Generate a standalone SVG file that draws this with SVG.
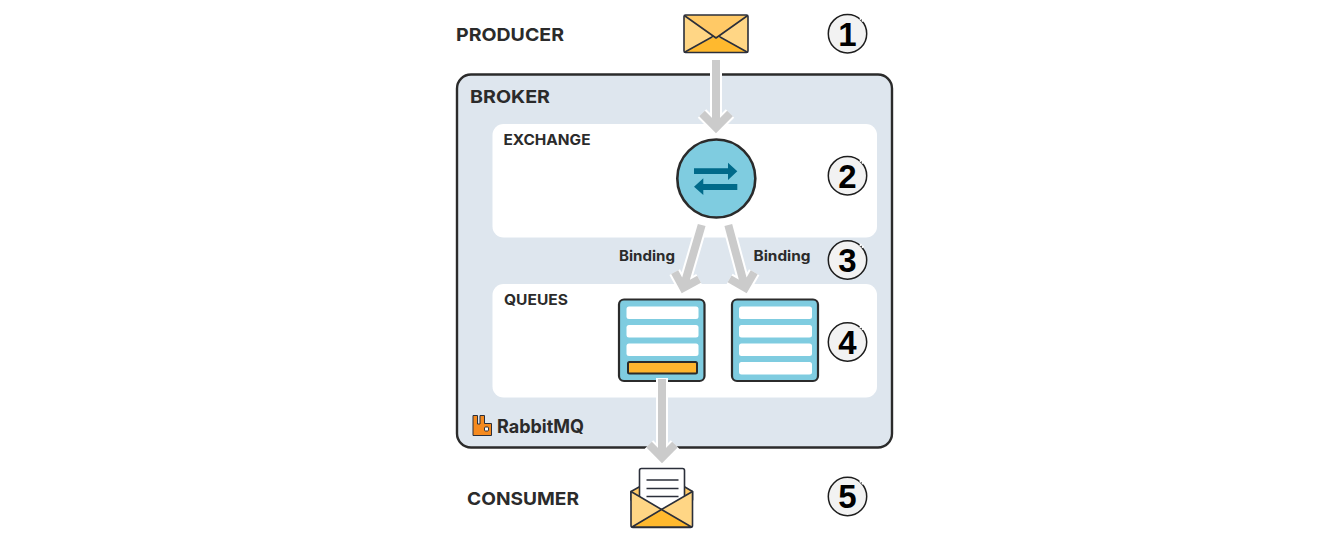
<svg xmlns="http://www.w3.org/2000/svg" xmlns:xlink="http://www.w3.org/1999/xlink" width="1341" height="541" viewBox="0 0 1341 541">
<style>
.t{font-family:Inter,"Open Sans","Liberation Sans",sans-serif;font-weight:700;fill:#2b2b2b}
.n{font-family:"Liberation Sans",Arial,sans-serif;font-weight:700;font-size:33px;fill:#000;text-anchor:middle}
.badge{fill:#f2f2f2;stroke:#1d1d1d;stroke-width:1.5}
.ink{stroke:#2b2f3a;stroke-width:1.6;stroke-linejoin:round;stroke-linecap:round}
.halo{fill:none;stroke:#fff;stroke-width:12;stroke-linejoin:miter}
.shaft{fill:none;stroke:#cbcbcb;stroke-width:8;stroke-linejoin:miter}
.row{fill:#fff}
.q{fill:#7fcce0;stroke:#2b2b2b;stroke-width:2.2}
</style>
<defs>
<g id="gap"><path d="M12.5 -15.5 L16 -12.5" fill="none" stroke="#fff" stroke-width="2.5" stroke-dasharray="1.6 1.2"/></g>
</defs>
<rect width="1341" height="541" fill="#fff"/>
<g id="broker">
<rect x="457" y="74.500" width="435" height="373" rx="14" fill="#dee6ee" stroke="#2b2b2b" stroke-width="2.400"/>
<text class="t" x="470" y="103" font-size="17.500" textLength="80" lengthAdjust="spacingAndGlyphs">BROKER</text>
</g>
<g id="exchange-panel">
<rect x="492.500" y="124" width="384.500" height="113.500" rx="11" fill="#fff"/>
<text class="t" x="503.500" y="144.500" font-size="14.500" textLength="87" lengthAdjust="spacingAndGlyphs">EXCHANGE</text>
</g>
<g id="queues-panel">
<rect x="492.500" y="284" width="384.500" height="113.500" rx="11" fill="#fff"/>
<text class="t" x="504" y="305" font-size="14.500" textLength="64" lengthAdjust="spacingAndGlyphs">QUEUES</text>
</g>
<g id="producer">
<text class="t" x="456" y="41" font-size="18" textLength="108" lengthAdjust="spacingAndGlyphs">PRODUCER</text>
</g>
<g id="producer-envelope">
<rect x="684" y="15" width="64" height="37.500" rx="1.500" fill="#ffd685"/>
<path d="M684 15H748L716 38Z" fill="#ffc966"/>
<path d="M684 52.500L716 36L748 52.500Z" fill="#ffb92e"/>
<rect x="684" y="15" width="64" height="37.500" rx="1.500" fill="none" class="ink"/>
<path d="M685 16L716 38L747 16M685 52L712 37M720 37L747 52" fill="none" class="ink"/>
</g>
<g id="exchange">
<circle cx="716.300" cy="178.500" r="39" fill="#7fcce0" stroke="#2b2b2b" stroke-width="2.600"/>
<path d="M694 168.300H728V162.700L737.300 171.300L728 180V174H694Z" fill="#006a8a"/>
<path d="M737.300 184H703.300V178.300L694 186.800L703.300 195V190H737.300Z" fill="#006a8a"/>
</g>
<g id="queue-1">
<rect x="619" y="299.500" width="85.500" height="81.500" rx="5" class="q"/>
<rect class="row" x="626.500" y="306.500" width="72" height="12.500" rx="2.500"/>
<rect class="row" x="626.500" y="325" width="72" height="12.500" rx="2.500"/>
<rect class="row" x="626.500" y="343.500" width="72" height="12.500" rx="2.500"/>
<rect x="628" y="362" width="69" height="11.500" rx="1.500" fill="#ffb52e" stroke="#2b2b2b" stroke-width="2"/>
</g>
<g id="queue-2">
<rect x="732" y="299.500" width="86" height="81.500" rx="5" class="q"/>
<rect class="row" x="739" y="306.500" width="73" height="12.500" rx="2.500"/>
<rect class="row" x="739" y="325" width="73" height="12.500" rx="2.500"/>
<rect class="row" x="739" y="343.500" width="73" height="12.500" rx="2.500"/>
<rect class="row" x="739" y="362" width="73" height="12.500" rx="2.500"/>
</g>
<g id="binding-labels">
<text class="t" x="619" y="261" font-size="14.500" textLength="56" lengthAdjust="spacingAndGlyphs">Binding</text>
<text class="t" x="753.500" y="261" font-size="14.500" textLength="57" lengthAdjust="spacingAndGlyphs">Binding</text>
</g>
<g id="rabbitmq-logo">
<path d="M473 415.500H477.500V424H480V415.500H484.500V423.500H491.500V435.500H473Z" fill="#f58a1f" stroke="#2b2f3a" stroke-width="1"/>
<rect x="484.500" y="427" width="4" height="4" rx="1" fill="#fff" stroke="#2b2f3a" stroke-width="1"/>
<text class="t" x="497" y="432.500" font-size="18.500" textLength="87" lengthAdjust="spacingAndGlyphs">RabbitMQ</text>
</g>
<g id="consumer">
<text class="t" x="467" y="504.500" font-size="18" textLength="112" lengthAdjust="spacingAndGlyphs">CONSUMER</text>
</g>
<g id="consumer-envelope">
<path d="M631 491.500L640 486.500H684L692.500 491.500V500H631Z" fill="#ffc966" class="ink"/>
<rect x="639.500" y="468.500" width="45" height="42" rx="2" fill="#fff" class="ink"/>
<path d="M646.500 480H678.500M646.500 488.500H678.500M646.500 496.500H678.500" stroke="#2b2f3a" stroke-width="1.500" fill="none"/>
<path d="M631 491.500L661.500 509.500L692.500 491.500V525.500Q692.500 527.500 690.500 527.500H633Q631 527.500 631 525.500Z" fill="#ffd685" class="ink"/>
<path d="M632 527L661.500 509.500L691.500 527Z" fill="#ffb92e" class="ink"/>
</g>
<g id="connectors">
<path class="halo" d="M716 58V127.500M702 113.500L716 127.500L730 113.500"/>
<path class="halo" d="M701.700 225L683.300 287.900M674.700 272.100L683.300 287.900L699.100 279.300"/>
<path class="halo" d="M728.300 225L745.200 287.900M729.600 278.900L745.200 287.900L754.200 272.300"/>
<path class="halo" d="M662 378V457.500M649 444.500L662 457.500L675 444.500"/>
<path class="shaft" d="M716 60V127.500M702 113.500L716 127.500L730 113.500"/>
<path class="shaft" d="M701.700 225L683.300 287.900M674.700 272.100L683.300 287.900L699.100 279.300"/>
<path class="shaft" d="M728.300 225L745.200 287.900M729.600 278.900L745.200 287.900L754.200 272.300"/>
<path class="shaft" d="M662 379V457.500M649 444.500L662 457.500L675 444.500"/>
</g>
<g id="badge-1"><circle class="badge" cx="847.500" cy="33.700" r="19.200"/><use xlink:href="#gap" href="#gap" x="847.500" y="33.700"/><text class="n" x="847.500" y="45.500">1</text></g>
<g id="badge-2"><circle class="badge" cx="847.500" cy="175.700" r="19.200"/><use xlink:href="#gap" href="#gap" x="847.500" y="175.700"/><text class="n" x="847.500" y="187.500">2</text></g>
<g id="badge-3"><circle class="badge" cx="847.500" cy="260" r="19.200"/><use xlink:href="#gap" href="#gap" x="847.500" y="260"/><text class="n" x="847.500" y="271.800">3</text></g>
<g id="badge-4"><circle class="badge" cx="847.500" cy="342" r="19.200"/><use xlink:href="#gap" href="#gap" x="847.500" y="342"/><text class="n" x="847.500" y="353.800">4</text></g>
<g id="badge-5"><circle class="badge" cx="847.500" cy="496.500" r="19.200"/><use xlink:href="#gap" href="#gap" x="847.500" y="496.500"/><text class="n" x="847.500" y="508.300">5</text></g>
</svg>
